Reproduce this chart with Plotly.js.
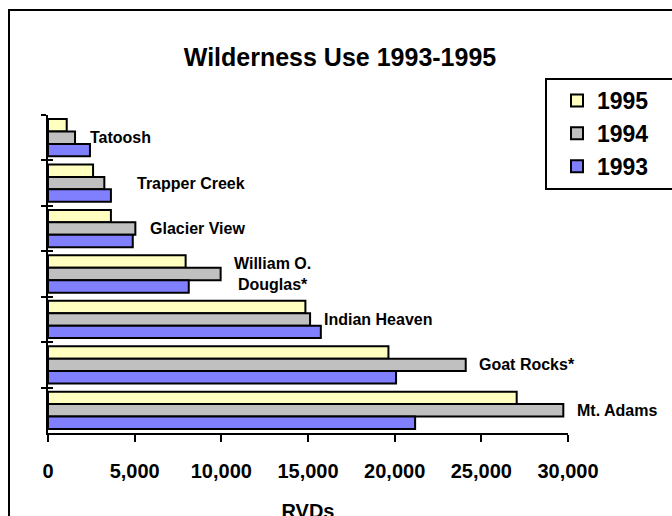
<!DOCTYPE html>
<html>
<head>
<meta charset="utf-8">
<script src="https://cdn.plot.ly/plotly-3.0.1.min.js"></script>
<style>
  html, body { margin: 0; padding: 0; background: #fff; }
  #wrap { position: relative; width: 672px; height: 516px; overflow: hidden; }
  #chart { position: absolute; left: 0; top: 0; width: 672px; height: 540px; }
  #frame { position: absolute; left: 8px; top: 9px; width: 700px; height: 600px;
           border-top: 2px solid #000; border-left: 2px solid #000; pointer-events: none; }
  #legbox { position: absolute; left: 545px; top: 78px; width: 200px; height: 108px;
            border: 2px solid #000; pointer-events: none; }
</style>
</head>
<body>
<div id="wrap">
  <div id="chart"></div>
  <div id="frame"></div>
  <div id="legbox"></div>
</div>
<script>
// ---- data ----
const categories = ["Tatoosh", "Trapper Creek", "Glacier View", "William O.<br>Douglas*",
                    "Indian Heaven", "Goat Rocks*", "Mt. Adams"];
const years = ["1995", "1994", "1993"];
const rvd1995 = [1080, 2600, 3630, 7940, 14850, 19640, 27040];
const rvd1994 = [1560, 3250, 5040, 9960, 15120, 24100, 29730];
const rvd1993 = [2420, 3630, 4890, 8120, 15740, 20080, 21180];
const xTickVals = [0, 5000, 10000, 15000, 20000, 25000, 30000];
const xTickText = ["0", "5,000", "10,000", "15,000", "20,000", "25,000", "30,000"];

// ---- style ----
const FONT = "Liberation Sans, Arial, sans-serif";
const colors = ["#FFFFC0", "#C0C0C0", "#8080FF"];
const labelShift = [-2, 24, 13, 11, 1, 11, 12];

const series = [rvd1995, rvd1994, rvd1993];
const traces = series.map((vals, i) => ({
  type: "bar",
  orientation: "h",
  name: "<b>" + years[i] + "</b>",
  x: vals,
  y: categories,
  marker: { color: colors[i], line: { color: "#000", width: 2 } },
  hoverinfo: "x+name"
}));
// helper trace for the inner tick marks axis
traces.push({
  type: "scatter", mode: "markers", x: categories.map(() => 0), y: categories,
  yaxis: "y2", marker: { opacity: 0 }, showlegend: false, hoverinfo: "skip"
});

const annotations = categories.map((c, i) => ({
  x: Math.max(rvd1995[i], rvd1994[i], rvd1993[i]),
  y: c, xref: "x", yref: "y",
  text: "<b>" + c + "</b>", showarrow: false, xanchor: "left", yanchor: "middle", align: "center",
  xshift: labelShift[i],
  font: { family: FONT, size: 16, color: "#000" }
}));

const H = 540;
const layout = {
  width: 672, height: H,
  margin: { l: 48, r: 104, t: 115, b: H - 433, autoexpand: false },
  paper_bgcolor: "#fff", plot_bgcolor: "#fff",
  barmode: "group", bargap: 0.18, bargroupgap: 0,
  showlegend: true,
  title: {
    text: "<b>Wilderness Use 1993-1995</b>",
    font: { family: FONT, size: 25, color: "#000" },
    x: 340 / 672, xanchor: "center", xref: "container",
    y: 1 - 57 / H, yanchor: "middle", yref: "container"
  },
  xaxis: {
    range: [0, 30000], tickvals: xTickVals, ticktext: xTickText,
    showgrid: false, zeroline: false,
    showline: true, linecolor: "#000", linewidth: 2,
    ticks: "outside", ticklen: 7, tickwidth: 2, tickcolor: "#000",
    ticklabelstandoff: 12,
    tickfont: { family: FONT, size: 20, color: "#000", weight: 700 },
    title: { text: "<b>RVDs</b>", standoff: 23,
             font: { family: FONT, size: 20, color: "#000" } },
    fixedrange: true
  },
  yaxis: {
    type: "category", autorange: "reversed",
    showgrid: false, zeroline: false, showticklabels: false,
    showline: true, linecolor: "#000", linewidth: 2,
    ticks: "outside", tickson: "boundaries", ticklen: 5, tickwidth: 2, tickcolor: "#000",
    fixedrange: true
  },
  yaxis2: {
    type: "category", overlaying: "y", matches: "y", side: "left",
    showgrid: false, zeroline: false, showticklabels: false, showline: false,
    ticks: "inside", tickson: "boundaries", ticklen: 5, tickwidth: 2, tickcolor: "#000",
    fixedrange: true
  },
  legend: {
    x: (557 - 48) / 520, xanchor: "left", xref: "paper",
    y: 1 + (115 - 79) / 318, yanchor: "top", yref: "paper",
    borderwidth: 0, bgcolor: "rgba(0,0,0,0)",
    font: { family: FONT, size: 23, color: "#000" }
  },
  annotations: annotations
};

Plotly.newPlot("chart", traces, layout, { displayModeBar: false, staticPlot: true });
</script>
</body>
</html>
